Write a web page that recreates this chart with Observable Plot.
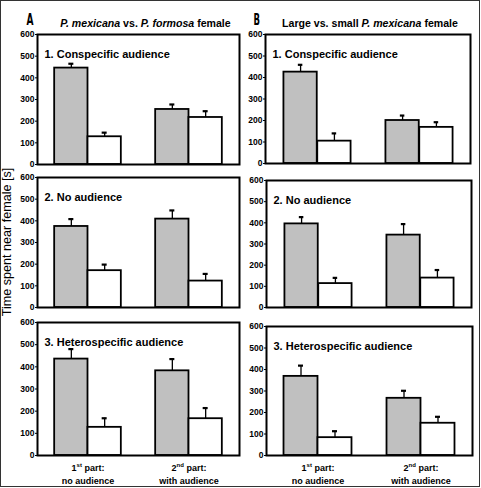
<!DOCTYPE html>
<html>
<head>
<meta charset="utf-8">
<script src="https://cdn.jsdelivr.net/npm/d3@7"></script>
<script src="https://cdn.jsdelivr.net/npm/@observablehq/plot@0.6"></script>
<style>
html, body { margin: 0; padding: 0; background: #fff; }
#fig { position: relative; width: 481px; height: 488px; font-family: "Liberation Sans", Arial, Helvetica, sans-serif; background: #fff; overflow: hidden; }
#border { position: absolute; left: 0; top: 0; width: 480px; height: 487px; border: 1px solid #333; box-sizing: border-box; }
.panel { position: absolute; }
.panel svg { display: block; overflow: visible; }
.panel svg text { font-weight: bold; }
#overlay { position: absolute; left: 0; top: 0; pointer-events: none; }
</style>
</head>
<body>
<div id="fig"><div id="border"></div></div>
<script>
// ---------- data ----------
const parts = ["1st part:\nno audience", "2nd part:\nwith audience"];
const rowTitles = ["1. Conspecific audience", "2. No audience", "3. Heterospecific audience"];
const columnLetters = ["A", "B"];
const columnTitleA = [["P. mexicana", true], [" vs. ", false], ["P. formosa", true], [" female", false]];
const columnTitleB = [["Large vs. small ", false], ["P. mexicana", true], [" female", false]];
const yLabel = "Time spent near female [s]";
const yTicks = [0, 100, 200, 300, 400, 500, 600];

// means and standard errors, [row][part]
const grayMeanA  = [[445, 254], [374, 408], [435, 382]];
const graySeA    = [[20, 23],   [34, 40],   [45, 53]];
const whiteMeanA = [[128, 217], [170, 122], [127, 166]];
const whiteSeA   = [[19, 29],   [28, 33],   [41, 48]];
const grayMeanB  = [[425, 200], [395, 342], [368, 266]];
const graySeB    = [[34, 23],   [32, 52],   [50, 35]];
const whiteMeanB = [[104, 168], [113, 139], [83, 150]];
const whiteSeB   = [[36, 24],   [27, 38],   [30, 30]];

const series = {
  A: {grayMean: grayMeanA, graySe: graySeA, whiteMean: whiteMeanA, whiteSe: whiteSeA},
  B: {grayMean: grayMeanB, graySe: graySeB, whiteMean: whiteMeanB, whiteSe: whiteSeB}
};

// ---------- layout (frame edges in page pixels: left, right, top, bottom) ----------
const frames = {
  A: [[37, 239, 34, 164], [37, 239, 177, 307], [37, 239, 322, 455]],
  B: [[265, 470, 34, 163], [266, 471, 180, 307], [266, 472, 326, 455]]
};

const fig = document.getElementById("fig");
const FONT = '"Liberation Sans", Arial, Helvetica, sans-serif';
const NS = "http://www.w3.org/2000/svg";

function panel(col, r) {
  const [fl, fr, ft, fb] = frames[col][r];
  const mL = 24, mR = 4, mT = 4, mB = r === 2 ? 34 : 4;
  const fw = fr - fl, fh = fb - ft;
  const width = mL + fw + mR, height = mT + fh + mB;
  const bw = fw / 2;
  const s = series[col];
  const gray = parts.map((p, i) => ({part: p, mean: s.grayMean[r][i], se: s.graySe[r][i]}));
  const white = parts.map((p, i) => ({part: p, mean: s.whiteMean[r][i], se: s.whiteSe[r][i]}));
  const off = bw * 0.165;
  const capInset = bw / 2 - 2.5;
  const marks = [
    Plot.barY(gray, {x: "part", y: "mean", fill: "#c0c0c0", stroke: "#000", strokeWidth: 1.8, insetLeft: bw * 0.17, insetRight: bw * 0.5}),
    Plot.barY(white, {x: "part", y: "mean", fill: "#fff", stroke: "#000", strokeWidth: 1.8, insetLeft: bw * 0.5, insetRight: bw * 0.17}),
    Plot.ruleX(gray, {x: "part", y1: "mean", y2: d => d.mean + d.se, dx: -off, stroke: "#000", strokeWidth: 1.3}),
    Plot.tickY(gray, {x: "part", y: d => d.mean + d.se, dx: -off, insetLeft: capInset, insetRight: capInset, stroke: "#000", strokeWidth: 2.2}),
    Plot.ruleX(white, {x: "part", y1: "mean", y2: d => d.mean + d.se, dx: off, stroke: "#000", strokeWidth: 1.3}),
    Plot.tickY(white, {x: "part", y: d => d.mean + d.se, dx: off, insetLeft: capInset, insetRight: capInset, stroke: "#000", strokeWidth: 2.2}),
    Plot.frame({stroke: "#000", strokeWidth: 2}),
    Plot.axisY(yTicks, {tickSize: 2, tickPadding: 1, fontSize: 8.5, fontWeight: "bold", label: null}),
    Plot.text([rowTitles[r]], {text: d => d, frameAnchor: "top-left", textAnchor: "start", dx: 7, dy: 16, fontSize: 11, fontWeight: "bold", fill: "#000"})
  ];
  if (r === 2) marks.push(Plot.axisX({tickSize: 0, tickPadding: 6, fontSize: 9, fontWeight: "bold", lineHeight: 1.45, label: null}));
  const plot = Plot.plot({
    width, height,
    marginLeft: mL, marginRight: mR, marginTop: mT, marginBottom: mB,
    style: {fontFamily: FONT, fontSize: "8.5px", fontWeight: "bold", color: "#000", background: "transparent", overflow: "visible"},
    x: {type: "band", domain: parts, padding: 0, axis: r === 2 ? undefined : null, label: null},
    y: {domain: [0, 600], label: null},
    marks
  });
  // superscript ordinal suffixes in the x tick labels
  plot.querySelectorAll('g[aria-label="x-axis tick label"] text').forEach(t => {
    const first = t.querySelector("tspan") || t;
    const m = first.textContent.match(/^(\d+)(st|nd|rd|th)(.*)$/);
    if (!m) return;
    first.textContent = m[1];
    const sup = document.createElementNS(NS, "tspan");
    sup.setAttribute("dy", "-3.5"); sup.setAttribute("font-size", "6");
    sup.textContent = m[2];
    const rest = document.createElementNS(NS, "tspan");
    rest.setAttribute("dy", "3.5");
    rest.textContent = m[3];
    first.append(sup, rest);
  });
  const div = document.createElement("div");
  div.className = "panel";
  div.style.left = (fl - mL) + "px";
  div.style.top = (ft - mT) + "px";
  div.appendChild(plot);
  fig.appendChild(div);
}

["A", "B"].forEach(col => [0, 1, 2].forEach(r => panel(col, r)));

// ---------- headings and y label ----------
const ov = document.createElementNS(NS, "svg");
ov.setAttribute("id", "overlay");
ov.setAttribute("width", 481); ov.setAttribute("height", 488);
ov.setAttribute("font-family", FONT);

function addText(attrs, segments) {
  const t = document.createElementNS(NS, "text");
  for (const k in attrs) t.setAttribute(k, attrs[k]);
  for (const [str, ital] of segments) {
    const sp = document.createElementNS(NS, "tspan");
    if (ital) sp.setAttribute("font-style", "italic");
    sp.textContent = str;
    t.appendChild(sp);
  }
  ov.appendChild(t);
  return t;
}
const letterFont = '"Liberation Sans Narrow", "DejaVu Sans Condensed", "Liberation Sans", sans-serif';
addText({x: 26.5, y: 25, "font-family": letterFont, "font-weight": "bold", "font-size": 16.5, textLength: 7, lengthAdjust: "spacingAndGlyphs"}, [[columnLetters[0], false]]);
addText({x: 253.5, y: 25, "font-family": letterFont, "font-weight": "bold", "font-size": 16.5, textLength: 6.5, lengthAdjust: "spacingAndGlyphs"}, [[columnLetters[1], false]]);
addText({x: 145.5, y: 27, "text-anchor": "middle", "font-weight": "bold", "font-size": 10.6}, columnTitleA);
addText({x: 370, y: 27, "text-anchor": "middle", "font-weight": "bold", "font-size": 10.6}, columnTitleB);
addText({x: 0, y: 0, transform: "translate(11,242) rotate(-90)", "text-anchor": "middle", "font-size": 12.6}, [[yLabel, false]]);
fig.appendChild(ov);
</script>
</body>
</html>
